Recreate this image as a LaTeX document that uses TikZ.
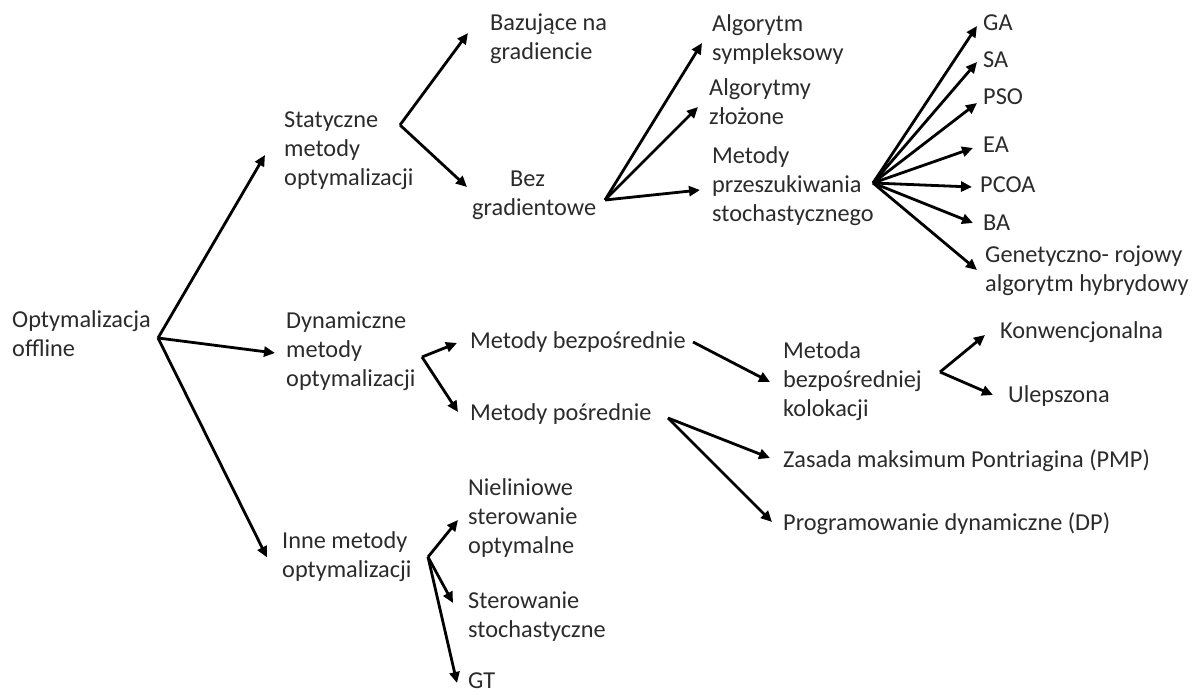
\documentclass[tikz,border=0pt]{standalone}
\usepackage{fontspec}
\setmainfont{Carlito}
\usetikzlibrary{arrows.meta}
\definecolor{txt}{HTML}{2B2B2B}
\begin{document}
\begin{tikzpicture}[x=1pt,y=-1pt,
  lbl/.style={font=\fontsize{24.3}{29}\selectfont, text=txt, inner sep=0pt, align=left, anchor=west},
  arr/.style={line width=2.8pt, draw=black, -{Triangle[length=11pt,width=10pt]}}]
\useasboundingbox[fill=white] (0,0) rectangle (1199,695);

% level 0
\node[lbl] (root) at (12,336.5) {\strut Optymalizacja\\offline\strut};

% level 1
\node[lbl] (stat) at (284,151) {\strut Statyczne\\metody\\optymalizacji\strut};
\node[lbl] (dyn)  at (286,352) {\strut Dynamiczne\\metody\\optymalizacji\strut};
\node[lbl] (inne) at (282,557.5) {\strut Inne metody\\optymalizacji\strut};

% static branch
\node[lbl] (baz) at (490,39) {\strut Bazujące na\\gradiencie\strut};
\node[lbl] (bez) at (472,195) {\strut\hspace*{38pt}Bez\\gradientowe\strut};
\node[lbl] (sym) at (712,40) {\strut Algorytm\\sympleksowy\strut};
\node[lbl] (zlo) at (709,104) {\strut Algorytmy\\złożone\strut};
\node[lbl] (mps) at (712,187) {\strut Metody\\przeszukiwania\\stochastycznego\strut};
\node[lbl] (ga)   at (983,25)  {\strut GA};
\node[lbl] (sa)   at (983,62)  {\strut SA};
\node[lbl] (pso)  at (983,99)  {\strut PSO};
\node[lbl] (ea)   at (983,147) {\strut EA};
\node[lbl] (pcoa) at (980,187) {\strut PCOA};
\node[lbl] (ba)   at (983,225) {\strut BA};
\node[lbl] (gen)  at (985,271.5) {\strut Genetyczno- rojowy\\algorytm hybrydowy\strut};

% dynamic branch
\node[lbl] (mb)   at (470,343) {\strut Metody bezpośrednie};
\node[lbl] (mp)   at (470,415) {\strut Metody pośrednie};
\node[lbl] (mbk)  at (783,381.5) {\strut Metoda\\bezpośredniej\\kolokacji\strut};
\node[lbl] (konw) at (1000,333) {\strut Konwencjonalna};
\node[lbl] (ulep) at (1008,397) {\strut Ulepszona};
\node[lbl] (pmp)  at (783,462) {\strut Zasada maksimum Pontriagina (PMP)};
\node[lbl] (dp)   at (783,525) {\strut Programowanie dynamiczne (DP)};

% other methods branch
\node[lbl] (nsto) at (468,519) {\strut Nieliniowe\\sterowanie\\optymalne\strut};
\node[lbl] (sst)  at (468,617) {\strut Sterowanie\\stochastyczne\strut};
\node[lbl] (gt)   at (468,683) {\strut GT};

% fork points on the right of each parent label
\coordinate (f0)    at (158,338);
\coordinate (fstat) at (400,125);
\coordinate (fdyn)  at (422,357);
\coordinate (finne) at (428,557);
\coordinate (fbez)  at (605,200);
\coordinate (fmps)  at (873,183);
\coordinate (fmb)   at (693,342);
\coordinate (fmp)   at (668,418);
\coordinate (fmbk)  at (940,372);

% connectors
\draw[arr] (f0) -- ([shift={(-19,4)}]stat.west);
\draw[arr] (f0) -- ([shift={(-11,1)}]dyn.west);
\draw[arr] (f0) -- ([shift={(-15,0)}]inne.west);

\draw[arr] (fstat) -- ([shift={(-22,-6)}]baz.west);
\draw[arr] (fstat) -- ([shift={(-5,-8)}]bez.west);

\draw[arr] (fbez) -- ([shift={(-10,3)}]sym.west);
\draw[arr] (fbez) -- ([shift={(-11,3)}]zlo.west);
\draw[arr] (fbez) -- ([shift={(-12,3)}]mps.west);

\draw[arr] (fmps) -- ([shift={(-6,1)}]ga.west);
\draw[arr] (fmps) -- ([shift={(-6,0)}]sa.west);
\draw[arr] (fmps) -- ([shift={(-6,4)}]pso.west);
\draw[arr] (fmps) -- ([shift={(-10,1)}]ea.west);
\draw[arr] (fmps) -- ([shift={(-8,0)}]pcoa.west);
\draw[arr] (fmps) -- ([shift={(-10,-2)}]ba.west);
\draw[arr] (fmps) -- ([shift={(-8,-1.5)}]gen.west);

\draw[arr] (fdyn) -- ([shift={(-13,0)}]mb.west);
\draw[arr] (fdyn) -- ([shift={(-12,-3)}]mp.west);
\draw[arr] (fmb) -- ([shift={(-13,0.5)}]mbk.west);
\draw[arr] (fmbk) -- ([shift={(-15,2)}]konw.west);
\draw[arr] (fmbk) -- ([shift={(-15,-2)}]ulep.west);
\draw[arr] (fmp) -- ([shift={(-13,-4)}]pmp.west);
\draw[arr] (fmp) -- ([shift={(-11,-3)}]dp.west);

\draw[arr] (finne) -- ([shift={(-10,1)}]nsto.west);
\draw[arr] (finne) -- ([shift={(-15,-14)}]sst.west);
\draw[arr] (finne) -- ([shift={(-11,0)}]gt.west);
\end{tikzpicture}
\end{document}
